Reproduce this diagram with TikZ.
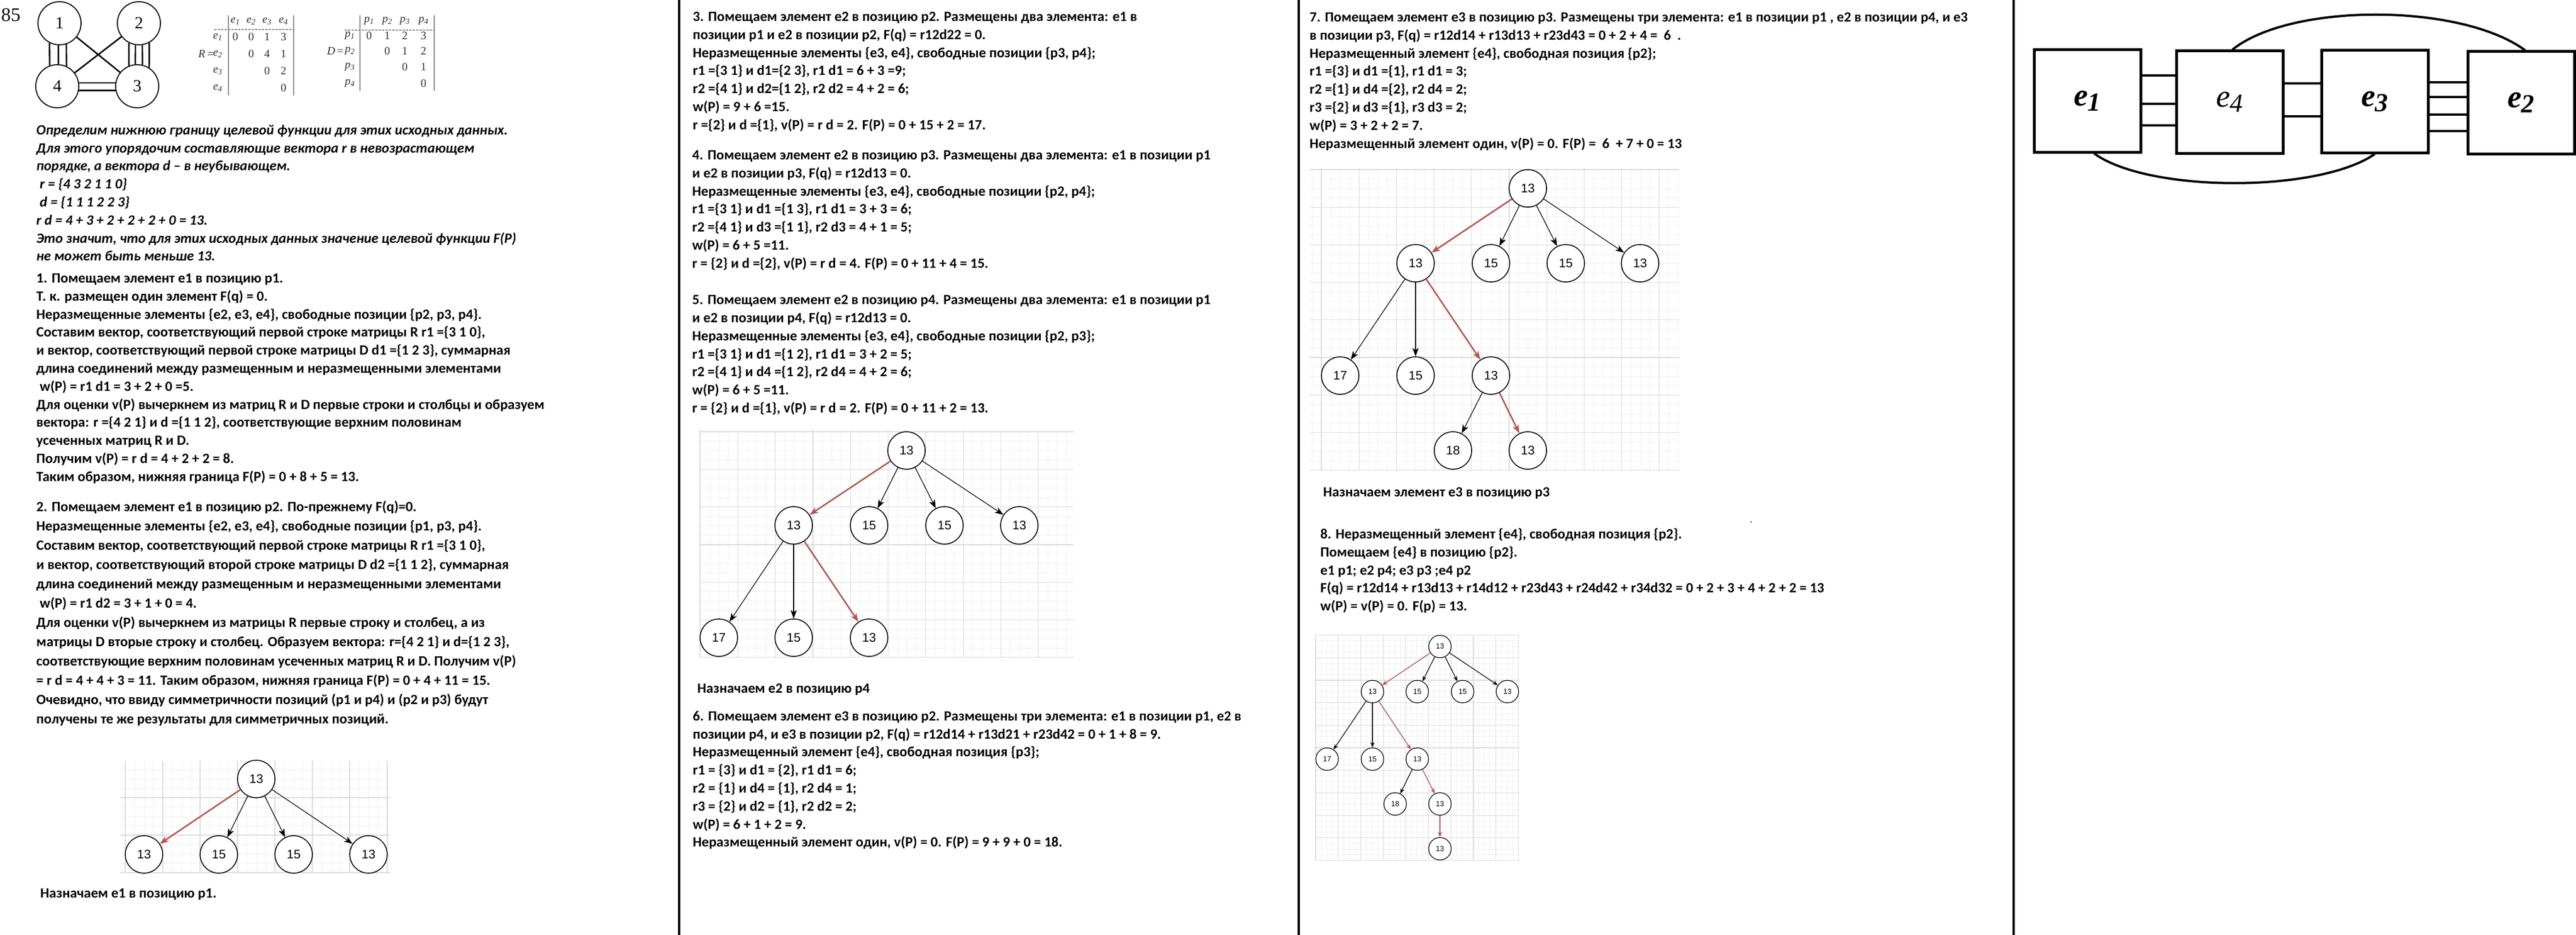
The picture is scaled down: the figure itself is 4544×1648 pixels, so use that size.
\documentclass[tikz,border=0pt]{standalone}
\usepackage{fontspec}
\setmainfont{Carlito}
\newfontfamily\arialfont{Liberation Sans}
\newfontfamily\timesfont{Liberation Serif}
\usetikzlibrary{arrows.meta}

\definecolor{drawred}{HTML}{B85450}
\definecolor{gridline}{HTML}{DCDCDC}
\definecolor{gridfine}{HTML}{F1F1F1}
\definecolor{matgray}{HTML}{8C8C8C}

\newcommand{\msub}[2]{\textit{#1}\textsubscript{\textit{#2}}}
\newcommand{\elab}[2]{#1\raisebox{-9pt}{\fontsize{46}{46}\selectfont #2}}

% light paper grid behind a tree: line origin, unit, clip corners
\newcommand{\papergrid}[7]{%
  \begin{scope}
    \clip (#4,#5) rectangle (#6,#7);
    \foreach \k in {-8,...,56} {
      \draw[gridfine] ({#1+\k*#3/4},#5) -- ({#1+\k*#3/4},#7);
      \draw[gridfine] (#4,{#2+\k*#3/4}) -- (#6,{#2+\k*#3/4});
    }
    \foreach \k in {-2,...,14} {
      \draw[gridmajor] ({#1+\k*#3},#5) -- ({#1+\k*#3},#7);
      \draw[gridmajor] (#4,{#2+\k*#3}) -- (#6,{#2+\k*#3});
    }
  \end{scope}}

\tikzset{
  gridfine/.style={draw=gridfine, line width=0.8pt},
  gridmajor/.style={draw=gridline, line width=1.2pt},
  txt/.style={anchor=north west, align=left, inner sep=0pt, font=\bfseries\fontsize{25}{31.8}\selectfont},
  tnode/.style={circle, draw, fill=white, line width=1.6pt, minimum size=66pt, inner sep=0pt, font=\arialfont\fontsize{22}{22}\selectfont},
  snode/.style={tnode, line width=1.2pt, minimum size=39.7pt, font=\arialfont\fontsize{13}{13}\selectfont},
  tedge/.style={-{Stealth[length=15pt, width=11pt, inset=4pt]}, line width=1.2pt},
  redge/.style={tedge, draw=drawred, fill=drawred, line width=2.6pt},
  sedge/.style={-{Stealth[length=9pt, width=7pt, inset=2.5pt]}, line width=1.2pt},
  sredge/.style={sedge, draw=drawred, fill=drawred, line width=1.4pt},
  gnode/.style={circle, draw, line width=1.8pt, minimum size=76pt, inner sep=0pt, font=\timesfont\fontsize{30}{30}\selectfont},
  wire/.style={line width=2.6pt},
  mtxt/.style={inner sep=0pt, font=\timesfont\fontsize{20}{20}\selectfont, text=black!80},
  bar/.style={draw=matgray, line width=1.8pt},
  blk/.style={draw, line width=5pt, minimum width=188pt, minimum height=180pt, inner sep=0pt, font=\timesfont\bfseries\itshape\fontsize{56}{56}\selectfont},
  divider/.style={line width=4.5pt}
}

\begin{document}
\begin{tikzpicture}[x=1pt, y=-1pt]
  \useasboundingbox (0,0) rectangle (4544,1648);
  \fill[white] (0,0) rectangle (4544,1648);

  % column dividers
  \draw[divider] (1198,0) -- (1198,1648);
  \draw[divider] (2291,0) -- (2291,1648);
  \draw[divider] (3552,0) -- (3552,1648);

  % ---- source graph and matrices ----
  \node[font=\timesfont\fontsize{34}{34}\selectfont, inner sep=0pt] (num) at (19,26) {85};
  \node[gnode] (g1) at (105,41) {1};
  \node[gnode] (g2) at (245,41) {2};
  \node[gnode] (g4) at (101,152) {4};
  \node[gnode] (g3) at (242,152) {3};
  \draw[wire] (g1.243) -- (g4.110);
  \draw[wire] (g1.267) -- (g4.87);
  \draw[wire] (g1.288) -- (g4.65);
  \draw[wire] (g2.243) -- (g3.112);
  \draw[wire] (g2.261) -- (g3.95);
  \draw[wire] (g2.279) -- (g3.76);
  \draw[wire] (g2.298) -- (g3.57);
  \draw[wire] (g4.9) -- (g3.171);
  \draw[wire] (g4.349) -- (g3.191);
  \draw[wire] (g1) -- (g3);
  \draw[wire] (g2) -- (g4);

  \draw[bar] (403,27) -- (403,168);
  \draw[bar] (518,27) -- (518,168);
  \draw[bar, dashed, dash pattern=on 4pt off 2pt] (378,52) -- (518,52);
  \foreach \cx/\j in {415/1, 443/2, 471/3, 500/4}
    \node[mtxt] (rh\j) at (\cx,37) {\msub{e}{\j}};
  \foreach \cy/\j in {65/1, 95/2, 125/3, 155/4}
    \node[mtxt] (rl\j) at (384,\cy) {\msub{e}{\j}};
  \node[mtxt, anchor=east] (Rname) at (377,95) {\textit{R}\,=};
  \foreach \cx/\cy/\v [count=\n] in {415/65/0, 443/65/0, 471/65/1, 500/65/3,
      443/95/0, 471/95/4, 500/95/1, 471/125/0, 500/125/2, 500/155/0}
    \node[mtxt] (rv\n) at (\cx,\cy) {\v};

  \draw[bar] (635,27) -- (635,160);
  \draw[bar] (766,27) -- (766,160);
  \draw[bar, dashed, dash pattern=on 4pt off 2pt] (608,53) -- (766,53);
  \foreach \cx/\j in {651/1, 683/2, 714/3, 747/4}
    \node[mtxt] (dh\j) at (\cx,37) {\msub{p}{\j}};
  \foreach \cy/\j in {63/1, 90/2, 118/3, 147/4}
    \node[mtxt] (dl\j) at (617,\cy) {\msub{p}{\j}};
  \node[mtxt, anchor=east] (Dname) at (606,90) {\textit{D}\,=};
  \foreach \cx/\cy/\v [count=\n] in {651/63/0, 683/63/1, 714/63/2, 747/63/3,
      683/90/0, 714/90/1, 747/90/2, 714/118/0, 747/118/1, 747/147/0}
    \node[mtxt] (dv\n) at (\cx,\cy) {\v};

  % ---- column 1 ----
  \node[txt, font=\bfseries\itshape\fontsize{25}{31.8}\selectfont] (intro) at (64,220) {Определим нижнюю границу целевой функции для этих исходных данных.\\
Для этого упорядочим составляющие вектора r в невозрастающем\\
порядке, а вектора d – в неубывающем.\\
\hspace{6pt}r = \{4 3 2 1 1 0\}\\
\hspace{6pt}d = \{1 1 1 2 2 3\}\\
r d = 4 + 3 + 2 + 2 + 2 + 0 = 13.\\
Это значит, что для этих исходных данных значение целевой функции F(P)\\
не может быть меньше 13.};
  \node[txt] (step1) at (64,482) {1. Помещаем элемент e1 в позицию p1.\\
Т. к. размещен один элемент F(q) = 0.\\
Неразмещенные элементы \{e2, e3, e4\}, свободные позиции \{p2, p3, p4\}.\\
Составим вектор, соответствующий первой строке матрицы R r1 =\{3 1 0\},\\
и вектор, соответствующий первой строке матрицы D d1 =\{1 2 3\}, суммарная\\
длина соединений между размещенным и неразмещенными элементами\\
\hspace{6pt}w(P) = r1 d1 = 3 + 2 + 0 =5.\\
Для оценки v(P) вычеркнем из матриц R и D первые строки и столбцы и образуем\\
вектора: r =\{4 2 1\} и d =\{1 1 2\}, соответствующие верхним половинам\\
усеченных матриц R и D.\\
Получим v(P) = r d = 4 + 2 + 2 = 8.\\
Таким образом, нижняя граница F(P) = 0 + 8 + 5 = 13.};
  \node[txt, font=\bfseries\fontsize{25}{34}\selectfont] (step2) at (64,883) {2. Помещаем элемент e1 в позицию p2. По-прежнему F(q)=0.\\
Неразмещенные элементы \{e2, e3, e4\}, свободные позиции \{p1, p3, p4\}.\\
Составим вектор, соответствующий первой строке матрицы R r1 =\{3 1 0\},\\
и вектор, соответствующий второй строке матрицы D d2 =\{1 1 2\}, суммарная\\
длина соединений между размещенным и неразмещенными элементами\\
\hspace{6pt}w(P) = r1 d2 = 3 + 1 + 0 = 4.\\
Для оценки v(P) вычеркнем из матрицы R первые строку и столбец, а из\\
матрицы D вторые строку и столбец. Образуем вектора: r=\{4 2 1\} и d=\{1 2 3\},\\
соответствующие верхним половинам усеченных матриц R и D. Получим v(P)\\
= r d = 4 + 4 + 3 = 11. Таким образом, нижняя граница F(P) = 0 + 4 + 11 = 15.\\
Очевидно, что ввиду симметричности позиций (p1 и p4) и (p2 и p3) будут\\
получены те же результаты для симметричных позиций.};

  % tree after step 2
  \papergrid{221}{1340}{66}{212}{1341}{688}{1538}
  \node[tnode] (t1r) at (452,1373) {13};
  \node[tnode] (t1a) at (254,1506) {13};
  \node[tnode] (t1b) at (386,1506) {15};
  \node[tnode] (t1c) at (518,1506) {15};
  \node[tnode] (t1d) at (650,1506) {13};
  \draw[redge] (t1r) -- (t1a);
  \draw[tedge] (t1r) -- (t1b);
  \draw[tedge] (t1r) -- (t1c);
  \draw[tedge] (t1r) -- (t1d);
  \node[txt] (pick1) at (71,1566) {Назначаем e1 в позицию p1.};

  % ---- column 2 ----
  \node[txt] (step3) at (1222,21) {3. Помещаем элемент e2 в позицию p2. Размещены два элемента: e1 в\\
позиции p1 и e2 в позиции p2, F(q) = r12d22 = 0.\\
Неразмещенные элементы \{e3, e4\}, свободные позиции \{p3, p4\};\\
r1 =\{3 1\} и d1=\{2 3\}, r1 d1 = 6 + 3 =9;\\
r2 =\{4 1\} и d2=\{1 2\}, r2 d2 = 4 + 2 = 6;\\
w(P) = 9 + 6 =15.\\
r =\{2\} и d =\{1\}, v(P) = r d = 2. F(P) = 0 + 15 + 2 = 17.};
  \node[txt] (step4) at (1221,265) {4. Помещаем элемент e2 в позицию p3. Размещены два элемента: e1 в позиции p1\\
и e2 в позиции p3, F(q) = r12d13 = 0.\\
Неразмещенные элементы \{e3, e4\}, свободные позиции \{p2, p4\};\\
r1 =\{3 1\} и d1 =\{1 3\}, r1 d1 = 3 + 3 = 6;\\
r2 =\{4 1\} и d3 =\{1 1\}, r2 d3 = 4 + 1 = 5;\\
w(P) = 6 + 5 =11.\\
r = \{2\} и d =\{2\}, v(P) = r d = 4. F(P) = 0 + 11 + 4 = 15.};
  \node[txt] (step5) at (1221,520) {5. Помещаем элемент e2 в позицию p4. Размещены два элемента: e1 в позиции p1\\
и e2 в позиции p4, F(q) = r12d13 = 0.\\
Неразмещенные элементы \{e3, e4\}, свободные позиции \{p2, p3\};\\
r1 =\{3 1\} и d1 =\{1 2\}, r1 d1 = 3 + 2 = 5;\\
r2 =\{4 1\} и d4 =\{1 2\}, r2 d4 = 4 + 2 = 6;\\
w(P) = 6 + 5 =11.\\
r = \{2\} и d =\{1\}, v(P) = r d = 2. F(P) = 0 + 11 + 2 = 13.};

  % tree after step 5
  \papergrid{1235}{761}{66.3}{1234}{757}{1894}{1158}
  \node[tnode] (t2r) at (1599,794) {13};
  \node[tnode] (t2a) at (1400,926) {13};
  \node[tnode] (t2b) at (1533,926) {15};
  \node[tnode] (t2c) at (1666,926) {15};
  \node[tnode] (t2d) at (1798,926) {13};
  \node[tnode] (t2e) at (1268,1124) {17};
  \node[tnode] (t2f) at (1400,1124) {15};
  \node[tnode] (t2g) at (1533,1124) {13};
  \draw[redge] (t2r) -- (t2a);
  \draw[tedge] (t2r) -- (t2b);
  \draw[tedge] (t2r) -- (t2c);
  \draw[tedge] (t2r) -- (t2d);
  \draw[tedge] (t2a) -- (t2e);
  \draw[tedge] (t2a) -- (t2f);
  \draw[redge] (t2a) -- (t2g);
  \node[txt] (pick2) at (1230,1205) {Назначаем e2 в позицию p4};

  \node[txt] (step6) at (1222,1253) {6. Помещаем элемент e3 в позицию p2. Размещены три элемента: e1 в позиции p1, e2 в\\
позиции p4, и e3 в позиции p2, F(q) = r12d14 + r13d21 + r23d42 = 0 + 1 + 8 = 9.\\
Неразмещенный элемент \{e4\}, свободная позиция \{p3\};\\
r1 = \{3\} и d1 = \{2\}, r1 d1 = 6;\\
r2 = \{1\} и d4 = \{1\}, r2 d4 = 1;\\
r3 = \{2\} и d2 = \{1\}, r2 d2 = 2;\\
w(P) = 6 + 1 + 2 = 9.\\
Неразмещенный элемент один, v(P) = 0. F(P) = 9 + 9 + 0 = 18.};

  % ---- column 3 ----
  \node[txt] (step7) at (2310,22) {7. Помещаем элемент e3 в позицию p3. Размещены три элемента: e1 в позиции p1 , e2 в позиции p4, и e3\\
в позиции p3, F(q) = r12d14 + r13d13 + r23d43 = 0 + 2 + 4 = \ 6 \ .\\
Неразмещенный элемент \{e4\}, свободная позиция \{p2\};\\
r1 =\{3\} и d1 =\{1\}, r1 d1 = 3;\\
r2 =\{1\} и d4 =\{2\}, r2 d4 = 2;\\
r3 =\{2\} и d3 =\{1\}, r3 d3 = 2;\\
w(P) = 3 + 2 + 2 = 7.\\
Неразмещенный элемент один, v(P) = 0. F(P) = \ 6 \ + 7 + 0 = 13};

  % tree after step 7
  \papergrid{2331}{299}{66.2}{2310}{296}{2962}{830}
  \node[tnode] (t3r) at (2695,332) {13};
  \node[tnode] (t3a) at (2497,464) {13};
  \node[tnode] (t3b) at (2630,464) {15};
  \node[tnode] (t3c) at (2762,464) {15};
  \node[tnode] (t3d) at (2893,464) {13};
  \node[tnode] (t3e) at (2364,662) {17};
  \node[tnode] (t3f) at (2497,662) {15};
  \node[tnode] (t3g) at (2630,662) {13};
  \node[tnode] (t3h) at (2563,794) {18};
  \node[tnode] (t3i) at (2695,794) {13};
  \draw[redge] (t3r) -- (t3a);
  \draw[tedge] (t3r) -- (t3b);
  \draw[tedge] (t3r) -- (t3c);
  \draw[tedge] (t3r) -- (t3d);
  \draw[tedge] (t3a) -- (t3e);
  \draw[tedge] (t3a) -- (t3f);
  \draw[redge] (t3a) -- (t3g);
  \draw[tedge] (t3g) -- (t3h);
  \draw[redge] (t3g) -- (t3i);
  \node[txt] (pick3) at (2334,859) {Назначаем элемент e3 в позицию p3};

  \node[inner sep=0pt, font=\bfseries\fontsize{14}{14}\selectfont] (speck) at (3089,921) {.};
  \node[txt] (step8) at (2329,931) {8. Неразмещенный элемент \{e4\}, свободная позиция \{p2\}.\\
Помещаем \{e4\} в позицию \{p2\}.\\
e1 p1; e2 p4; e3 p3 ;e4 p2\\
F(q) = r12d14 + r13d13 + r14d12 + r23d43 + r24d42 + r34d32 = 0 + 2 + 3 + 4 + 2 + 2 = 13\\
w(P) = v(P) = 0. F(p) = 13.};

  % final tree
  \papergrid{2321}{1119.5}{39.7}{2319}{1119}{2680}{1517}
  \node[snode] (t4r) at (2540,1139.5) {13};
  \node[snode] (t4a) at (2421,1219) {13};
  \node[snode] (t4b) at (2500,1219) {15};
  \node[snode] (t4c) at (2580,1219) {15};
  \node[snode] (t4d) at (2659,1219) {13};
  \node[snode] (t4e) at (2341,1338) {17};
  \node[snode] (t4f) at (2421,1338) {15};
  \node[snode] (t4g) at (2500,1338) {13};
  \node[snode] (t4h) at (2461,1417) {18};
  \node[snode] (t4i) at (2540,1417) {13};
  \node[snode] (t4j) at (2540,1496) {13};
  \draw[sredge] (t4r) -- (t4a);
  \draw[sedge] (t4r) -- (t4b);
  \draw[sedge] (t4r) -- (t4c);
  \draw[sedge] (t4r) -- (t4d);
  \draw[sedge] (t4a) -- (t4e);
  \draw[sedge] (t4a) -- (t4f);
  \draw[sredge] (t4a) -- (t4g);
  \draw[sedge] (t4g) -- (t4h);
  \draw[sredge] (t4g) -- (t4i);
  \draw[sredge] (t4i) -- (t4j);

  % ---- resulting placement ----
  \node[blk] (e1) at (3682,178) {\elab{e}{1}};
  \node[blk] (e4) at (3933,180) {\mdseries\elab{e}{4}};
  \node[blk] (e3) at (4189,179) {\elab{e}{3}};
  \node[blk] (e2) at (4447,181) {\elab{e}{2}};
  \foreach \dy in {45,-5,-43}
    \draw[wire, line width=4pt] ([yshift=\dy pt]e1.east) -- ([yshift=\dy pt]e1.east -| e4.west);
  \foreach \dy in {33,-25}
    \draw[wire, line width=4pt] ([yshift=\dy pt]e4.east) -- ([yshift=\dy pt]e4.east -| e3.west);
  \foreach \dy in {34,8,-23,-52}
    \draw[wire, line width=4pt] ([yshift=\dy pt]e3.east) -- ([yshift=\dy pt]e3.east -| e2.west);
  \draw[wire, line width=4pt] ([xshift=5pt]e4.north) .. controls (4040,5) and (4340,5) .. ([xshift=7pt]e2.north);
  \draw[wire, line width=4pt] ([xshift=12pt]e1.south) .. controls (3790,340) and (4090,340) .. (e3.south);
\end{tikzpicture}
\end{document}
